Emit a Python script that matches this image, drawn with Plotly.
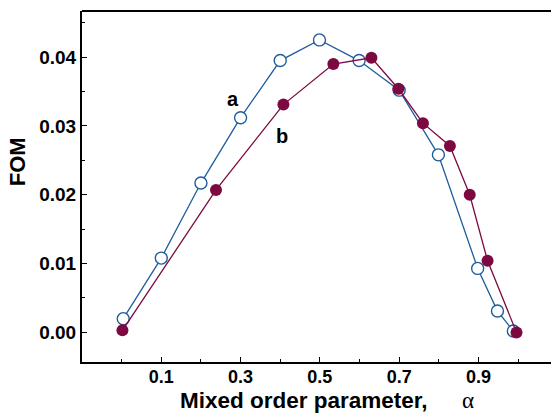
import plotly.graph_objects as go

# Series a (open circles)
alpha_a = [0.004, 0.100, 0.200, 0.300, 0.400, 0.499, 0.599, 0.700, 0.799, 0.898, 0.948, 0.988]
fom_a = [0.0020, 0.0108, 0.0217, 0.0312, 0.0395, 0.0425, 0.0395, 0.0352, 0.0258, 0.0093, 0.0031, 0.0002]

# Series b (filled circles)
alpha_b = [0.002, 0.238, 0.408, 0.534, 0.630, 0.698, 0.760, 0.828, 0.878, 0.923, 0.996]
fom_b = [0.0003, 0.0207, 0.0331, 0.0390, 0.0399, 0.0354, 0.0304, 0.0271, 0.0200, 0.0104, 0.0000]

x_major = [0.1, 0.3, 0.5, 0.7, 0.9]
y_major = [0.00, 0.01, 0.02, 0.03, 0.04]

BLUE = "#1f5c9c"
MAROON = "#7c0a40"
FONT = "Liberation Sans"

fig = go.Figure()
fig.add_trace(go.Scatter(
    x=alpha_a, y=fom_a, mode="lines+markers",
    line=dict(color=BLUE, width=1.3),
    marker=dict(symbol="circle", size=12, color="white",
                line=dict(color=BLUE, width=1.4)),
    showlegend=False,
))
fig.add_trace(go.Scatter(
    x=alpha_b, y=fom_b, mode="lines+markers",
    line=dict(color=MAROON, width=1.3),
    marker=dict(symbol="circle", size=12, color=MAROON,
                line=dict(color=MAROON, width=0)),
    showlegend=False,
))

fig.update_layout(
    width=551, height=414,
    margin=dict(l=82, r=0, t=11, b=52),
    paper_bgcolor="white", plot_bgcolor="white",
    font=dict(family=FONT, color="black"),
    xaxis=dict(
        range=[-0.1, 1.083], showgrid=False, zeroline=False,
        showline=True, linecolor="black", linewidth=2,
        tickmode="array", tickvals=x_major,
        ticktext=[f"<b>{v:.1f}</b>" for v in x_major],
        ticks="inside", ticklen=5, tickwidth=1, tickcolor="black",
        tickfont=dict(size=18, family=FONT),
        ticklabelstandoff=-3,
        minor=dict(tick0=0, dtick=0.1, ticks="inside", ticklen=3,
                   tickwidth=1, tickcolor="black"),
    ),
    yaxis=dict(
        range=[-0.0043, 0.0467], showgrid=False, zeroline=False,
        showline=True, linecolor="black", linewidth=2,
        tickmode="array", tickvals=y_major,
        ticktext=[f"<b>{v:.2f}</b>" for v in y_major],
        ticks="inside", ticklen=5, tickwidth=1, tickcolor="black",
        tickfont=dict(size=19, family=FONT),
        minor=dict(tick0=0, dtick=0.005, ticks="inside", ticklen=3,
                   tickwidth=1, tickcolor="black"),
    ),
)

# top border of the frame
fig.add_shape(type="line", xref="paper", yref="paper",
              x0=0, x1=1, y0=1, y1=1,
              line=dict(color="black", width=2))

# curve labels
fig.add_annotation(x=0.281, y=0.0339, text="<b>a</b>", showarrow=False,
                   font=dict(size=20, family=FONT, color="black"))
fig.add_annotation(x=0.4035, y=0.0285, text="<b>b</b>", showarrow=False,
                   font=dict(size=20, family=FONT, color="black"))

# axis titles
fig.add_annotation(xref="paper", yref="paper", x=0.2047, y=-0.109,
                   xanchor="left", yanchor="middle",
                   text="<b>Mixed order parameter,</b>", showarrow=False,
                   font=dict(size=22.5, family=FONT, color="black"))
fig.add_annotation(xref="paper", yref="paper", x=0.8237, y=-0.109,
                   xanchor="center", yanchor="middle",
                   text="α", showarrow=False,
                   font=dict(size=23, family="Liberation Serif", color="black"))
fig.add_annotation(xref="paper", yref="paper", x=-0.1358, y=0.570,
                   xanchor="center", yanchor="middle", textangle=-90,
                   text="<b>FOM</b>", showarrow=False,
                   font=dict(size=22, family=FONT, color="black"))

fig.write_html("out.html")
